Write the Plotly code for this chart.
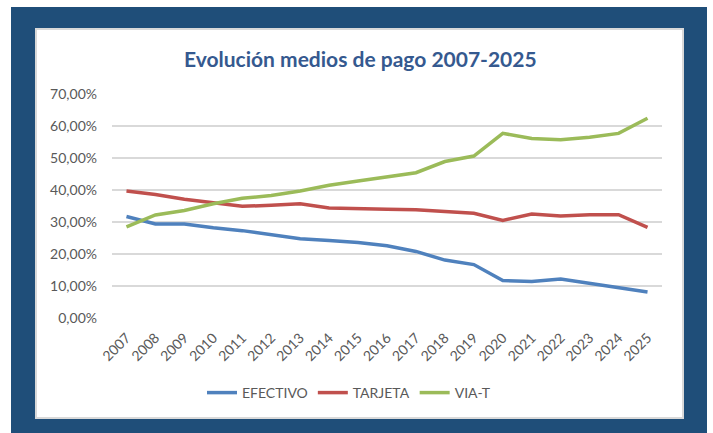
import plotly.graph_objects as go

years = [str(y) for y in range(2007, 2026)]
efectivo = [31.7, 29.4, 29.4, 28.2, 27.3, 26.1, 24.8, 24.2, 23.6, 22.6, 20.8, 18.1, 16.7,
            11.7, 11.4, 12.2, 10.8, 9.5, 8.1]
tarjeta = [39.7, 38.6, 37.1, 35.9, 34.9, 35.2, 35.7, 34.4, 34.1, 34.0, 33.8, 33.2, 32.7,
           30.5, 32.5, 31.9, 32.3, 32.3, 28.3]
via_t = [28.5, 32.2, 33.6, 35.7, 37.4, 38.3, 39.7, 41.5, 42.8, 44.0, 45.4, 48.9, 50.6,
         57.7, 56.1, 55.7, 56.5, 57.7, 62.4]
y_ticks = [0, 10, 20, 30, 40, 50, 60, 70]
y_ticktext = ["0,00%", "10,00%", "20,00%", "30,00%", "40,00%", "50,00%", "60,00%", "70,00%"]
title_text = "Evolución medios de pago 2007-2025"

W, H = 713, 433
FONT = "Lato"
GRAY = "#595959"

fig = go.Figure()
idx = list(range(len(years)))
for name, vals, col in [("EFECTIVO", efectivo, "#4F81BD"),
                        ("TARJETA", tarjeta, "#C0504D"),
                        ("VIA-T", via_t, "#9BBB59")]:
    fig.add_trace(go.Scatter(x=idx, y=vals, name=name, mode="lines",
                             line=dict(color=col, width=3.5),
                             hoverinfo="skip"))

fig.update_layout(
    width=W, height=H,
    margin=dict(l=0, r=0, t=0, b=0),
    paper_bgcolor="white",
    plot_bgcolor="rgba(0,0,0,0)",
    font=dict(family=FONT, size=14, color=GRAY),
    showlegend=True,
    legend=dict(orientation="h", x=349 / W, xanchor="center",
                y=(H - 393) / H, yanchor="middle",
                font=dict(family=FONT, size=14, color=GRAY),
                bgcolor="rgba(0,0,0,0)", itemwidth=30,
                tracegroupgap=0),
    xaxis=dict(domain=[112 / W, 662 / W], range=[-0.5, len(years) - 0.5],
               tickmode="array", tickvals=idx, ticktext=years, tickangle=-45,
               showgrid=False, zeroline=False, showline=False, ticks="",
               ticklabelstandoff=8,
               automargin=False, fixedrange=True,
               tickfont=dict(family=FONT, size=14, color=GRAY)),
    yaxis=dict(domain=[(H - 318) / H, (H - 94) / H], range=[0, 70],
               tickmode="array", tickvals=y_ticks, ticktext=y_ticktext,
               showgrid=True, gridcolor="#D9D9D9", gridwidth=1.3,
               zeroline=False, showline=False, ticks="", ticklabelstandoff=14,
               automargin=False, fixedrange=True,
               tickfont=dict(family=FONT, size=14, color=GRAY)),
    shapes=[
        dict(type="rect", xref="paper", yref="paper", layer="below",
             x0=11 / W, x1=707 / W, y0=0, y1=(H - 7) / H,
             fillcolor="#1F4E79", line=dict(width=0)),
        dict(type="rect", xref="paper", yref="paper", layer="below",
             x0=36 / W, x1=683 / W, y0=(H - 418) / H, y1=(H - 29) / H,
             fillcolor="white", line=dict(color="#D9D9D9", width=2)),
    ],
    annotations=[
        dict(text="<b>" + title_text + "</b>", xref="paper", yref="paper",
             x=360 / W, y=(H - 58) / H, xanchor="center", yanchor="middle",
             showarrow=False, font=dict(family=FONT, size=21, color="#35598F")),
    ],
)

fig.write_html("out.html",
               config={"displayModeBar": False, "staticPlot": True},
               post_script="document.body.style.margin='0';"
                           "document.body.style.overflow='hidden';")
